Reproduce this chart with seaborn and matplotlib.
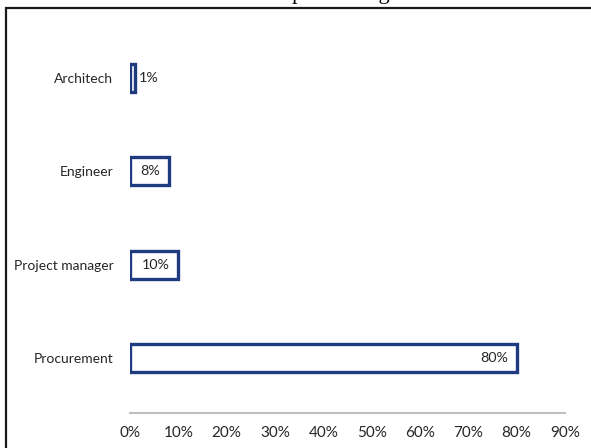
import matplotlib
matplotlib.use("Agg")
import matplotlib.pyplot as plt
from matplotlib.patches import Rectangle
import seaborn as sns
import pandas as pd

# Share of respondents by role
roles = ["Architech", "Engineer", "Project manager", "Procurement"]
shares = [0.01, 0.08, 0.10, 0.80]
tick_values = [0.0, 0.1, 0.2, 0.3, 0.4, 0.5, 0.6, 0.7, 0.8, 0.9]
tick_labels = ["0%", "10%", "20%", "30%", "40%", "50%", "60%", "70%", "80%", "90%"]
title_text = "Who handles purchasing"

df = pd.DataFrame({"role": roles, "share": shares})

sns.set_theme(style="white")
plt.rcParams["font.family"] = ["Lato", "DejaVu Sans"]

W, H = 591, 448
fig = plt.figure(figsize=(W / 100, H / 100), dpi=100)
fig.patch.set_facecolor("white")

# chart frame, extending past the right and bottom edges
fig.add_artist(Rectangle((6 / W, -0.1), 1.2, (H - 8) / H + 0.1,
                         transform=fig.transFigure, fill=False,
                         edgecolor="#1a1a1a", linewidth=1.6, clip_on=False))

ax = fig.add_axes([130 / W, 35 / H, (565 - 130) / W, (413 - 31.4) / H])

navy = "#1f3b80"
sns.barplot(data=df, x="share", y="role", orient="h", ax=ax,
            color="white", edgecolor=navy, linewidth=2.4, width=0.30,
            saturation=1)

fs = 10
ax.set_xlim(0, 0.9)
ax.set_ylim(3.59, -0.5)
ax.set_xticks(tick_values)
ax.set_xticklabels(tick_labels, fontsize=10.3, color="#404040")
ax.tick_params(axis="y", labelsize=fs, colors="#262626", pad=12, length=0)
ax.tick_params(axis="x", length=0, pad=9)
ax.set_xlabel("")
ax.set_ylabel("")

for s in ["top", "right", "left"]:
    ax.spines[s].set_visible(False)
ax.spines["bottom"].set_color("#bfbfbf")
ax.spines["bottom"].set_linewidth(1.5)
ax.spines["bottom"].set_position(("data", 3.59))

# value labels: inside the bar end when it fits, otherwise just outside
for i, v in enumerate(shares):
    label = f"{v:.0%}"
    if v >= 0.05:
        ax.annotate(label, (v, i), xytext=(-6.5, 0), textcoords="offset points",
                    ha="right", va="center", fontsize=10.3, color="#262626")
    else:
        ax.annotate(label, (v, i), xytext=(3, 0), textcoords="offset points",
                    ha="left", va="center", fontsize=10.3, color="#262626")

# title sits above the visible area; only descenders show
fig.text(170 / W, 1 + 1 / H, title_text, ha="left", va="baseline",
         fontsize=16, family=["Liberation Serif", "DejaVu Serif"], color="black")

fig.savefig("out.png", dpi=100, facecolor="white")
